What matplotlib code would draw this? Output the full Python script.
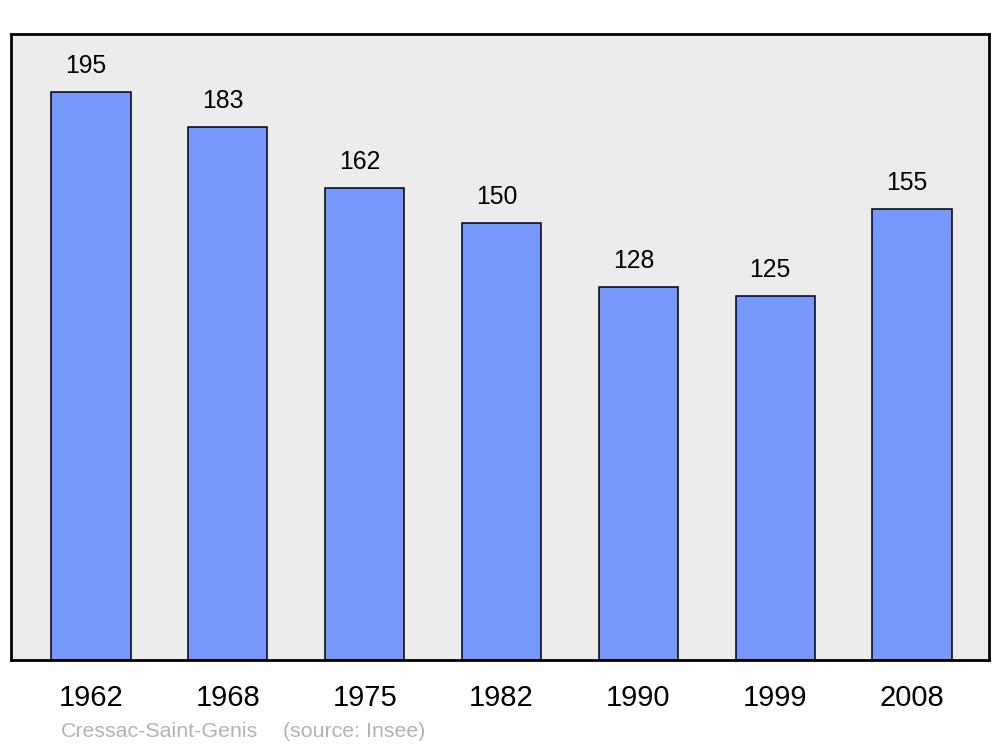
import matplotlib.pyplot as plt
import numpy as np

years = ["1962", "1968", "1975", "1982", "1990", "1999", "2008"]
population = [195, 183, 162, 150, 128, 125, 155]

plt.rcParams['font.family'] = ['Liberation Sans', 'DejaVu Sans']

fig = plt.figure(figsize=(10, 7.47), dpi=100)
ax = fig.add_axes([0.011, 0.1165, 0.978, 0.838])
ax.set_facecolor('#ececec')

x = np.arange(len(years))
ax.bar(x, population, width=0.58, color='#7799ff', edgecolor='black', linewidth=1.1, zorder=2)

for xi, v in zip(x, population):
    ax.annotate(str(v), (xi, v), xytext=(-5, 19), textcoords='offset pixels',
                ha='center', va='baseline', fontsize=17.8)

ax.set_xlim(-0.584, 6.562)
ax.set_ylim(0, 215)
ax.set_yticks([])
ax.set_xticks(x)
ax.set_xticklabels(years, fontsize=21)
ax.tick_params(axis='x', length=0, pad=17)
for s in ax.spines.values():
    s.set_linewidth(2)

fig.text(0.061, 1 - 737 / 747, "Cressac-Saint-Genis", color='#b3b3b3', fontsize=15.4, va='baseline')
fig.text(0.283, 1 - 737 / 747, "(source: Insee)", color='#b3b3b3', fontsize=15.4, va='baseline')

fig.savefig('out.png', dpi=100)
